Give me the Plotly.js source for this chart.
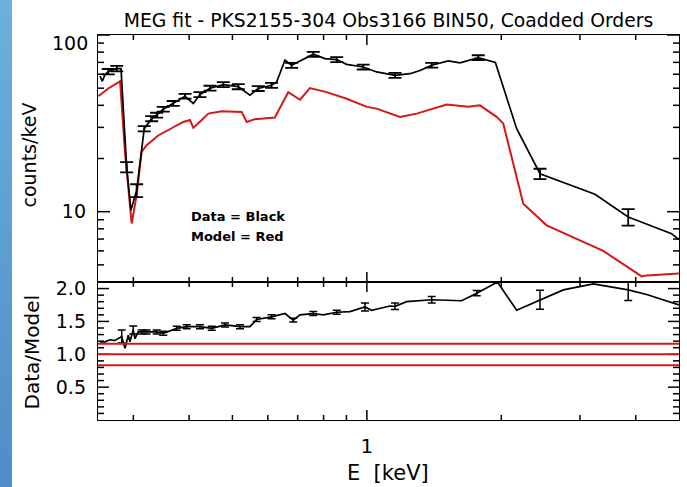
<!DOCTYPE html>
<html>
<head>
<meta charset="utf-8">
<script src="https://cdn.plot.ly/plotly-3.0.1.min.js"></script>
<style>
  html, body { margin: 0; padding: 0; background: #ffffff; }
  #chart { width: 687px; height: 487px; position: relative; }
  #strip { position: absolute; left: 0; top: 0; width: 12px; height: 487px;
           background: linear-gradient(to bottom, #6cb0dd, #4f8dc6); pointer-events: none; z-index: 5; }
</style>
</head>
<body>
<div id="chart"></div>
<div id="strip"></div>
<script>
// ---- Data ----
// Top panel: data (black) and model (red), counts/keV vs E [keV]
const dataE = [0.2526, 0.2556, 0.2592, 0.2636, 0.2754, 0.2815, 0.2898, 0.2963, 0.3051, 0.3173,
               0.3297, 0.3383, 0.3500, 0.3685, 0.3916, 0.4087, 0.4229, 0.4454, 0.4770, 0.5153,
               0.5472, 0.5711, 0.6118, 0.6281, 0.6556, 0.6785, 0.7146, 0.7586, 0.8059, 0.8560,
               0.9011, 0.9815, 1.052, 1.156, 1.249, 1.315, 1.397, 1.521, 1.616, 1.702,
               1.776, 1.94, 2.165, 2.442, 3.242, 3.848, 4.814, 5.0];
const dataCounts = [58.6, 54.7, 59.7, 62, 64.5, 64.5, 17.9, 10.2, 13.2, 29.5,
                    33.6, 35.2, 38, 41, 45, 41, 46, 50, 52.4, 51,
                    45.6, 49.8, 51.9, 54.2, 72, 67.4, 72, 77.8, 73.5, 72.6,
                    68.2, 65.9, 61.8, 59.1, 60.4, 63, 67.4, 71.3, 69.5, 72.6,
                    74.5, 70, 29.5, 16.4, 12.55, 9.33, 7.5, 6.95];

// Points of the data curve that carry error bars
const errE = [0.2636, 0.2754, 0.2898, 0.3051, 0.3173, 0.3297, 0.3383, 0.3500, 0.3685, 0.3916,
              0.4229, 0.4454, 0.4770, 0.5153, 0.5711, 0.6118, 0.6785, 0.7586, 0.8560, 0.9815,
              1.156, 1.397, 1.776, 2.442, 3.848];
const errCounts = [62, 64.5, 17.9, 13.2, 29.5, 33.6, 35.2, 38, 41, 45,
                   46, 50, 52.4, 51, 49.8, 51.9, 67.4, 77.8, 72.6, 65.9,
                   59.1, 67.4, 74.5, 16.4, 9.33];
const errSize = [2.2, 2.3, 1.2, 1.1, 1.0, 1.1, 1.1, 1.2, 1.3, 1.4,
                 1.5, 1.6, 1.7, 1.7, 1.6, 1.7, 2.2, 2.5, 2.3, 2.1,
                 1.9, 2.1, 2.3, 1.1, 1.0];

const modelE = [0.2504, 0.2636, 0.2801, 0.2873, 0.2974, 0.3051, 0.3131, 0.3212, 0.3411, 0.3591,
                0.3880, 0.4018, 0.4087, 0.4267, 0.4415, 0.4730, 0.5199, 0.5244, 0.5382, 0.5615,
                0.6223, 0.6668, 0.7084, 0.7458, 0.8128, 0.9011, 1.0, 1.052, 1.186, 1.293,
                1.509, 1.687, 1.791, 1.952, 2.020, 2.240, 2.527, 3.383, 4.124, 4.232, 5.0];
const modelCounts = [45, 49.8, 54.7, 21.8, 8.57, 12.4, 21.8, 23.8, 27, 28.9,
                     32.2, 33, 29.8, 33, 35.9, 37, 37, 36.7, 32.2, 33.4,
                     34.1, 47.5, 43, 50.1, 47.5, 43.6, 39.2, 38.3, 34.4, 35.9,
                     40.4, 39.2, 40, 34.4, 31.6, 11.1, 8.37, 6.0, 4.3, 4.36, 4.47];

// Bottom panel: Data/Model ratio
const ratioE = [0.2526, 0.2592, 0.2659, 0.2729, 0.2825, 0.2873, 0.2922, 0.2947, 0.2998, 0.3025,
                0.3076, 0.3131, 0.3212, 0.3383, 0.3500, 0.3752, 0.3950, 0.4229, 0.4494, 0.4813,
                0.5199, 0.5472, 0.5665, 0.6118, 0.6556, 0.6842, 0.7084, 0.7586, 0.7990, 0.8560,
                0.9166, 0.9902, 1.025, 1.070, 1.126, 1.156, 1.228, 1.397, 1.630, 1.762,
                1.961, 2.165, 2.442, 2.754, 3.214, 3.848, 4.232, 5.0];
const ratio = [1.19, 1.19, 1.22, 1.21, 1.27, 1.09, 1.29, 1.19, 1.37, 1.24,
               1.34, 1.34, 1.34, 1.34, 1.32, 1.395, 1.42, 1.42, 1.395, 1.446,
               1.42, 1.42, 1.53, 1.57, 1.62, 1.52, 1.60, 1.62, 1.60, 1.64,
               1.65, 1.72, 1.67, 1.70, 1.735, 1.73, 1.80, 1.83, 1.815, 1.93,
               2.10, 1.67, 1.83, 1.98, 2.07, 1.98, 1.91, 1.75];

const ratioErrE = [0.2825, 0.2998, 0.3131, 0.3212, 0.3383, 0.3500, 0.3752, 0.3950, 0.4229, 0.4494,
                   0.4813, 0.5199, 0.5665, 0.6118, 0.6842, 0.7586, 0.8560, 0.9902, 1.156, 1.397,
                   1.762, 2.442, 3.848];
const ratioErrVal = [1.27, 1.37, 1.34, 1.34, 1.34, 1.32, 1.395, 1.42, 1.42, 1.395,
                     1.446, 1.42, 1.53, 1.57, 1.52, 1.62, 1.64, 1.72, 1.73, 1.83,
                     1.93, 1.83, 1.98];
const ratioErrSize = [0.10, 0.06, 0.03, 0.03, 0.03, 0.03, 0.03, 0.03, 0.03, 0.03,
                      0.03, 0.03, 0.03, 0.03, 0.03, 0.03, 0.03, 0.06, 0.05, 0.05,
                      0.04, 0.145, 0.16];

const refLevels = [1.16, 1.0, 0.835];

// Tick values / labels
const xMajor = [1];
const xMajorText = ['1'];
const xMinor = [0.3, 0.4, 0.5, 0.6, 0.7, 0.8, 0.9, 2, 3, 4];
const yTopMajor = [10, 100];
const yTopMinor = [5, 6, 7, 8, 9, 20, 30, 40, 50, 60, 70, 80, 90];
const yBotMajor = [0.5, 1.0, 1.5, 2.0];
const yBotMajorText = ['0.5', '1.0', '1.5', '2.0'];
const yBotMinor = [0.1, 0.2, 0.3, 0.4, 0.6, 0.7, 0.8, 0.9, 1.1, 1.2, 1.3, 1.4, 1.6, 1.7, 1.8, 1.9];

// ---- Axis geometry ----
const X_MIN = 0.25, X_MAX = 5;          // E range (log)
const YT_MIN = 4, YT_MAX = 100;         // top panel range (log)
const YB_MIN = 0, YB_MAX = 2.1;         // bottom panel range (linear)
const PLOT_W = 581, TOP_H = 247, BOT_H = 138;
const xPxPerDec = PLOT_W / Math.log10(X_MAX / X_MIN);
const ytPxPerDec = TOP_H / Math.log10(YT_MAX / YT_MIN);
const ybPxPerUnit = BOT_H / (YB_MAX - YB_MIN);

// Inward tick marks on all four sides (IDL style), built from the tick arrays
function tickTrace(xa, ya, xs, ys) {
  return { x: xs, y: ys, xaxis: xa, yaxis: ya, mode: 'lines', cliponaxis: false,
           line: { color: '#000', width: 1.5 }, hoverinfo: 'skip', connectgaps: false };
}
function xTicksLog(vals, len, yLo, yHi, yShift) {
  const xs = [], ys = [];
  vals.forEach(v => {
    xs.push(v, v, null, v, v, null);
    ys.push(yLo, yShift(yLo, len), null, yHi, yShift(yHi, -len), null);
  });
  return [xs, ys];
}
function yTicks(vals, len) {
  const xs = [], ys = [];
  const f = Math.pow(10, len / xPxPerDec);
  vals.forEach(v => {
    xs.push(X_MIN, X_MIN * f, null, X_MAX, X_MAX / f, null);
    ys.push(v, v, null, v, v, null);
  });
  return [xs, ys];
}
const shiftLogTop = (y, px) => y * Math.pow(10, px / ytPxPerDec);
const shiftLinBot = (y, px) => y + px / ybPxPerUnit;

const tTopXMaj = xTicksLog(xMajor, 10, YT_MIN, YT_MAX, shiftLogTop);
const tTopXMin = xTicksLog(xMinor, 5, YT_MIN, YT_MAX, shiftLogTop);
const tTopYMaj = yTicks(yTopMajor, 12);
const tTopYMin = yTicks(yTopMinor, 6);
const tBotXMaj = xTicksLog(xMajor, 10, YB_MIN, YB_MAX, shiftLinBot);
const tBotXMin = xTicksLog(xMinor, 5, YB_MIN, YB_MAX, shiftLinBot);
const tBotYMaj = yTicks(yBotMajor, 11);
const tBotYMin = yTicks(yBotMinor, 6);

// ---- Plot ----
const RED = '#d41818';
const FONT = 'DejaVu Sans, Liberation Sans, sans-serif';

const traces = [
  { x: modelE, y: modelCounts, xaxis: 'x', yaxis: 'y', mode: 'lines',
    line: { color: RED, width: 2 }, hoverinfo: 'skip' },
  { x: dataE, y: dataCounts, xaxis: 'x', yaxis: 'y', mode: 'lines',
    line: { color: '#000', width: 1.7 }, hoverinfo: 'skip' },
  { x: errE, y: errCounts, xaxis: 'x', yaxis: 'y', mode: 'markers',
    marker: { size: 1, color: '#000', opacity: 0 },
    error_y: { type: 'data', array: errSize, visible: true, color: '#000', thickness: 1.8, width: 6.5 },
    hoverinfo: 'skip' },
  { x: ratioE, y: ratio, xaxis: 'x2', yaxis: 'y2', mode: 'lines',
    line: { color: '#000', width: 1.7 }, hoverinfo: 'skip' },
  { x: ratioErrE, y: ratioErrVal, xaxis: 'x2', yaxis: 'y2', mode: 'markers',
    marker: { size: 1, color: '#000', opacity: 0 },
    error_y: { type: 'data', array: ratioErrSize, visible: true, color: '#000', thickness: 1.5, width: 4 },
    hoverinfo: 'skip' },
  tickTrace('x', 'y', tTopXMaj[0], tTopXMaj[1]),
  tickTrace('x', 'y', tTopXMin[0], tTopXMin[1]),
  tickTrace('x', 'y', tTopYMaj[0], tTopYMaj[1]),
  tickTrace('x', 'y', tTopYMin[0], tTopYMin[1]),
  tickTrace('x2', 'y2', tBotXMaj[0], tBotXMaj[1]),
  tickTrace('x2', 'y2', tBotXMin[0], tBotXMin[1]),
  tickTrace('x2', 'y2', tBotYMaj[0], tBotYMaj[1]),
  tickTrace('x2', 'y2', tBotYMin[0], tBotYMin[1])
];

const xRange = [Math.log10(X_MIN), Math.log10(X_MAX)];
const splitFrac = BOT_H / (TOP_H + BOT_H);

const mainAxis = {
  showline: true, linecolor: '#000', linewidth: 1.2, mirror: true,
  ticks: '', showgrid: false, zeroline: false
};

const refShapes = refLevels.map(v => ({
  type: 'line', xref: 'x2 domain', yref: 'y2', x0: 0, x1: 1, y0: v, y1: v,
  line: { color: RED, width: 2 }, layer: 'above'
}));

const layout = {
  width: 687, height: 487,
  margin: { l: 98, r: 8, t: 35, b: 67, pad: 0 },
  paper_bgcolor: '#fff', plot_bgcolor: '#fff',
  showlegend: false,
  font: { family: FONT, color: '#000', size: 19 },
  title: { text: 'MEG fit - PKS2155-304 Obs3166 BIN50, Coadded Orders',
           x: 0.5, xref: 'paper', xanchor: 'center', y: 1 - 20 / 487, yref: 'container', yanchor: 'middle',
           font: { family: FONT, size: 18.8, color: '#000' } },
  xaxis: Object.assign({}, mainAxis, {
    domain: [0, 1], anchor: 'y', type: 'log', range: xRange,
    tickmode: 'array', tickvals: xMajor, showticklabels: false
  }),
  yaxis: Object.assign({}, mainAxis, {
    domain: [splitFrac, 1], anchor: 'x', type: 'log', range: [Math.log10(YT_MIN), Math.log10(YT_MAX)],
    tickmode: 'array', tickvals: yTopMajor, ticktext: ['10', ''],
    ticklabelstandoff: 7, tickfont: { size: 19 }
  }),
  xaxis2: Object.assign({}, mainAxis, {
    domain: [0, 1], anchor: 'y2', type: 'log', range: xRange,
    tickmode: 'array', tickvals: xMajor, ticktext: xMajorText,
    ticklabelstandoff: 8, tickfont: { size: 20 }
  }),
  yaxis2: Object.assign({}, mainAxis, {
    domain: [0, splitFrac], anchor: 'x2', range: [YB_MIN, YB_MAX],
    tickmode: 'array', tickvals: yBotMajor, ticktext: yBotMajorText,
    ticklabelstandoff: 7, tickfont: { size: 19 }
  }),
  shapes: refShapes,
  annotations: [
    { text: '100', xref: 'paper', yref: 'paper', x: (90 - 98) / 581, y: (420 - 43.5) / 385,
      xanchor: 'right', yanchor: 'middle', showarrow: false, font: { size: 19 } },
    { text: 'counts/keV', xref: 'paper', yref: 'paper', x: (28.5 - 98) / 581, y: (420 - 155) / 385,
      xanchor: 'center', yanchor: 'middle', textangle: -90, showarrow: false, font: { size: 19 } },
    { text: 'Data/Model', xref: 'paper', yref: 'paper', x: (31.5 - 98) / 581, y: (420 - 352) / 385,
      xanchor: 'center', yanchor: 'middle', textangle: -90, showarrow: false, font: { size: 20 } },
    { text: 'E  [keV]', xref: 'paper', yref: 'paper', x: (388 - 98) / 581, y: (420 - 473) / 385,
      xanchor: 'center', yanchor: 'middle', showarrow: false, font: { size: 21 } },
    { text: 'Data = Black', xref: 'paper', yref: 'paper', x: (189 - 98) / 581, y: (420 - 216) / 385,
      xanchor: 'left', yanchor: 'middle', showarrow: false, font: { size: 13, weight: 'bold' } },
    { text: 'Model = Red', xref: 'paper', yref: 'paper', x: (189 - 98) / 581, y: (420 - 236) / 385,
      xanchor: 'left', yanchor: 'middle', showarrow: false, font: { size: 13, weight: 'bold' } }
  ]
};

Plotly.newPlot('chart', traces, layout, { staticPlot: true, displayModeBar: false });
</script>
</body>
</html>
